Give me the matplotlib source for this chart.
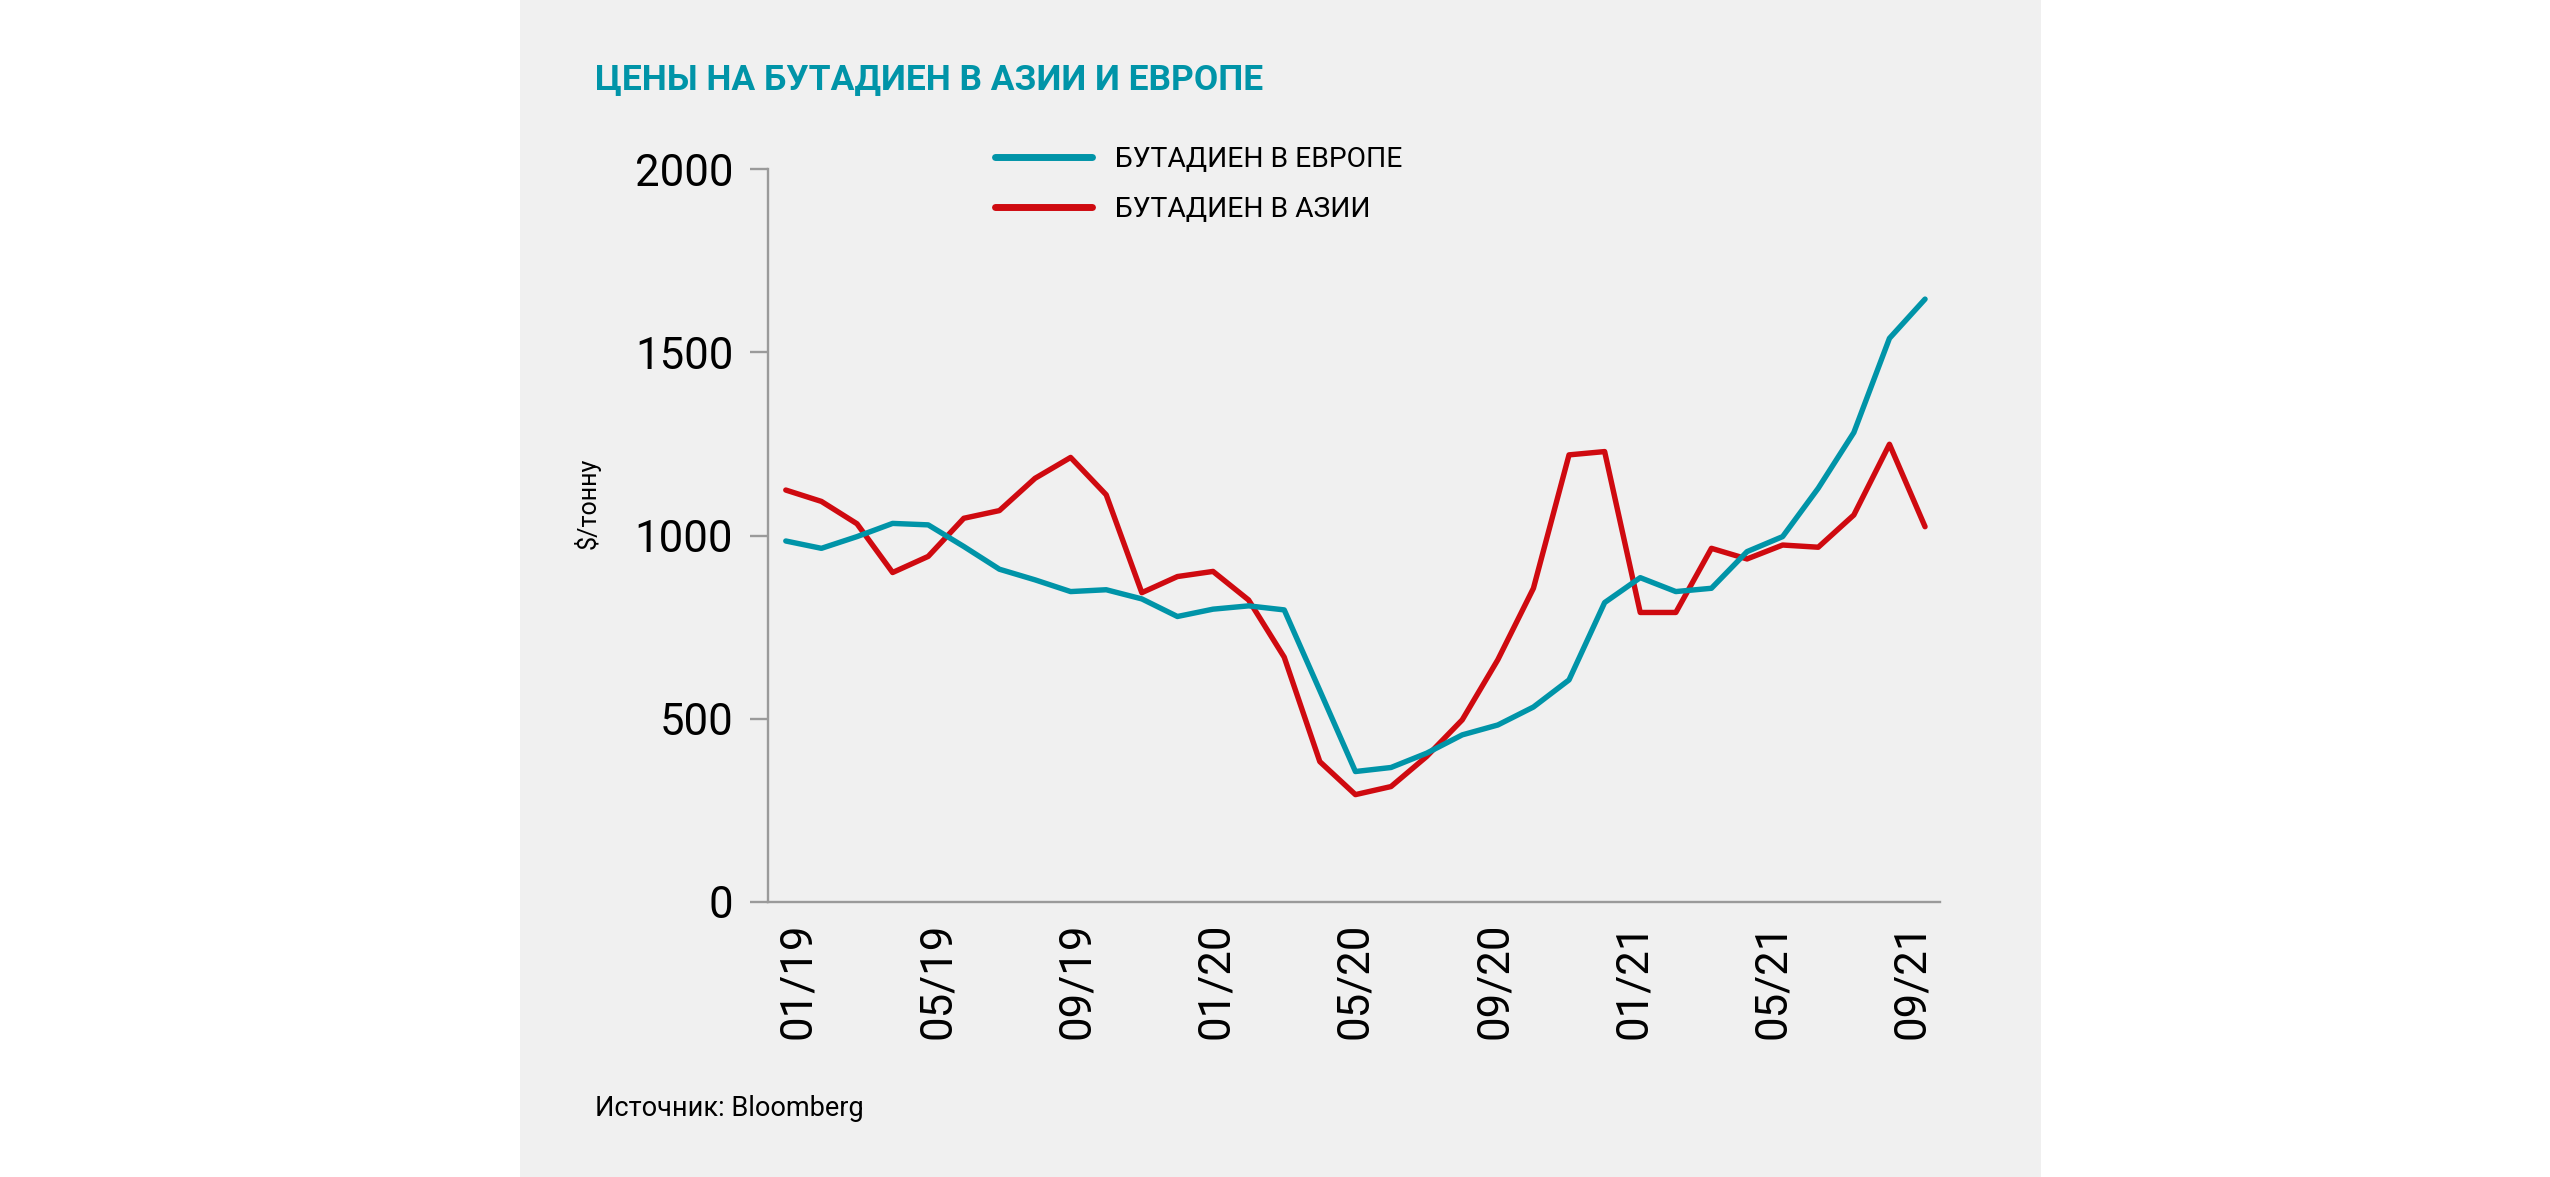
import numpy as np
import matplotlib
matplotlib.use("Agg")
import matplotlib.pyplot as plt
from matplotlib.patches import Rectangle

plt.rcParams['font.family'] = ['Roboto', 'DejaVu Sans']

# monthly prices, $/t, 01/19 .. 09/21
months = ["%02d/%02d" % (m, y) for y in (19, 20, 21) for m in range(1, 13)][:33]
europe = [985, 965, 997, 1033, 1029, 970, 908, 879, 847, 852, 827, 779,
          799, 808, 797, 577, 356, 367, 406, 456, 483, 532, 606, 817,
          885, 847, 856, 956, 997, 1129, 1281, 1538, 1645]
asia = [1124, 1093, 1032, 899, 943, 1047, 1068, 1156, 1213, 1111, 844, 888,
        902, 824, 668, 383, 293, 315, 397, 497, 661, 856, 1220, 1229,
        790, 790, 965, 936, 974, 968, 1056, 1249, 1024]
yticks = [0, 500, 1000, 1500, 2000]

teal = '#0094a8'
red = '#cf0a10'
grey = '#9a9a9a'
panel = '#f0f0f0'

W, H = 2550, 1177
fig = plt.figure(figsize=(W / 100, H / 100), dpi=100, facecolor='white')
# grey card behind the chart
fig.patches.append(Rectangle((520 / W, 0), (2041 - 520) / W, 1, transform=fig.transFigure,
                             facecolor=panel, edgecolor='none', zorder=-1))

ax = fig.add_axes([768 / W, 1 - 902 / H, (1940 - 768) / W, (902 - 169) / H])
ax.set_facecolor(panel)

x = np.arange(len(months))
l_asia, = ax.plot(x, asia, color=red, lw=3.9, solid_capstyle='round', label='БУТАДИЕН В АЗИИ')
l_eu, = ax.plot(x, europe, color=teal, lw=3.9, solid_capstyle='round', label='БУТАДИЕН В ЕВРОПЕ')

ax.set_xlim(-0.5, 32.42)
ax.set_ylim(0, 2000)
ax.set_yticks(yticks)
ax.tick_params(axis='y', length=13, width=1.7, color=grey, pad=12, labelsize=31.5)
# the labels in the original sit on a slightly compressed scale
tick_pos = np.arange(0, 33, 4) * 0.978 + 0.35
ax.set_xticks(tick_pos)
ax.set_xticklabels(months[::4], rotation=90)
ax.tick_params(axis='x', length=0, pad=15, labelsize=31.5)

for s in ['top', 'right']:
    ax.spines[s].set_visible(False)
for s in ['left', 'bottom']:
    ax.spines[s].set_color(grey)
    ax.spines[s].set_linewidth(1.7)

leg = ax.legend(handles=[l_eu, l_asia], loc='upper left', bbox_to_anchor=(995 / W, 1 - 146 / H),
                bbox_transform=fig.transFigure, frameon=False, fontsize=20.3,
                handlelength=3.45, handletextpad=0.8, labelspacing=0.8,
                borderpad=0, borderaxespad=0)
for h in leg.get_lines():
    h.set_linewidth(5)

fig.text(595 / W, 1 - 89 / H, 'ЦЕНЫ НА БУТАДИЕН В АЗИИ И ЕВРОПЕ', color=teal,
         fontsize=25.5, fontweight='bold', va='baseline', ha='left')
fig.text(587 / W, 1 - 503 / H, '$/тонну', rotation=90, fontsize=18,
         ha='center', va='center')
fig.text(595 / W, 1 - 1116 / H, 'Источник: Bloomberg', fontsize=19.5,
         va='baseline', ha='left')

fig.savefig('out.png', dpi=100, facecolor='white')
